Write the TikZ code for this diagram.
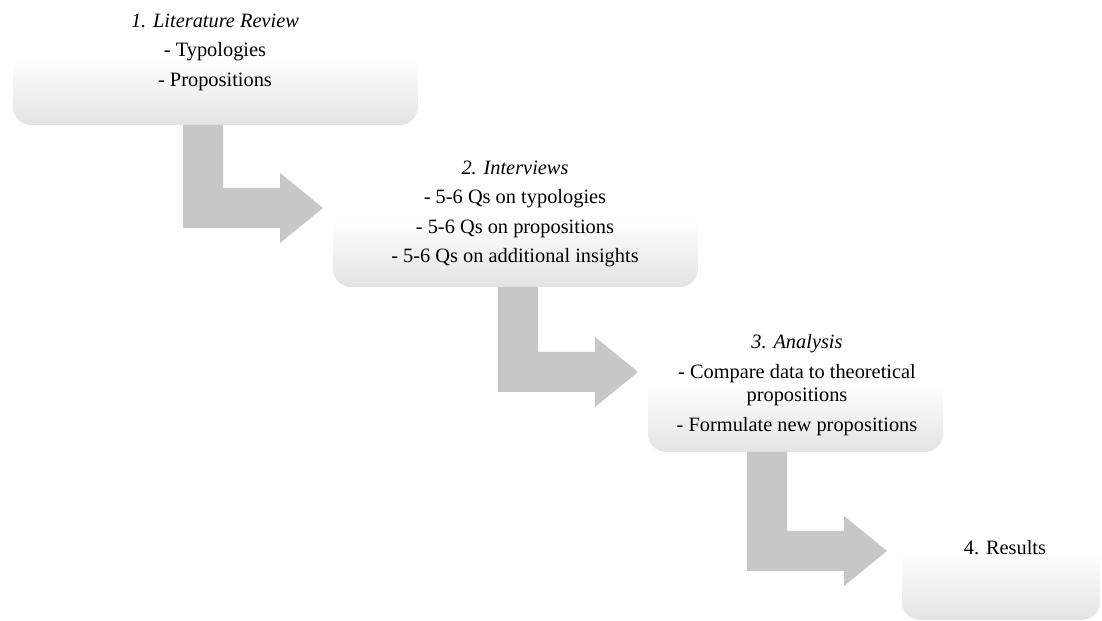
\documentclass[tikz,border=0pt]{standalone}
\usepackage{fontspec}
\setmainfont{Liberation Serif}
\usepackage{tikz}
\usetikzlibrary{calc}
\definecolor{boxgray}{gray}{0.89}
\definecolor{flowgray}{gray}{0.78}
\pgfdeclareverticalshading{boxfade}{100bp}{color(0bp)=(boxgray); color(25bp)=(boxgray); color(52bp)=(white); color(100bp)=(white)}
\tikzset{%
  panel/.style={rectangle,rounded corners=0.36cm,shading=boxfade,inner sep=0pt,outer sep=0pt,minimum height=2.5cm},
  step text/.style={align=center,inner sep=0pt,font=\fontsize{11.6}{13.2}\selectfont},
  flow/.style={fill=flowgray}%
}

\begin{document}
\begin{tikzpicture}[x=0.02cm,y=-0.02cm]

\useasboundingbox (0,0) rectangle (1102,621);

% Step boxes
\node[panel, minimum width=8.1cm] (b1) at (215.5,62.5) {};
\node[panel, minimum width=7.3cm] (b2) at (515.5,224.5) {};
\node[panel, minimum width=5.9cm] (b3) at (795.5,389.5) {};
\node[panel, minimum width=3.96cm] (b4) at (1001,557.5) {};

% Bent arrows between the steps
\fill[flow] (b1.south west) ++(170,0) -- ++(40,0) -- ++(0,63) -- ++(57,0) -- ++(0,-15)
  -- ++(43,35) -- ++(-43,35) -- ++(0,-15) -- ++(-97,0) -- cycle;
\fill[flow] (b2.south west) ++(165,0) -- ++(40,0) -- ++(0,65) -- ++(57,0) -- ++(0,-15)
  -- ++(43,35) -- ++(-43,35) -- ++(0,-15) -- ++(-97,0) -- cycle;
\fill[flow] (b3.south west) ++(99,0) -- ++(40,0) -- ++(0,79) -- ++(57,0) -- ++(0,-15)
  -- ++(43,35) -- ++(-43,35) -- ++(0,-15) -- ++(-97,0) -- cycle;

% Texts
\node[step text] (t1) at (215,52)
{\textit{1. Literature Review}\\[3.6pt]
- Typologies\\[3.6pt]
- Propositions};

\node[step text] (t2) at (515,214)
{\textit{2. Interviews}\\[3.6pt]
- 5-6 Qs on typologies\\[3.6pt]
- 5-6 Qs on propositions\\[3.6pt]
- 5-6 Qs on additional insights};

\node[step text] (t3) at (797,385)
{\textit{3. Analysis}\\[3.6pt]
- Compare data to theoretical\\
propositions\\[3.6pt]
- Formulate new propositions};

\node[step text] (t4) at (1005,548) {4. Results};

\end{tikzpicture}
\end{document}
